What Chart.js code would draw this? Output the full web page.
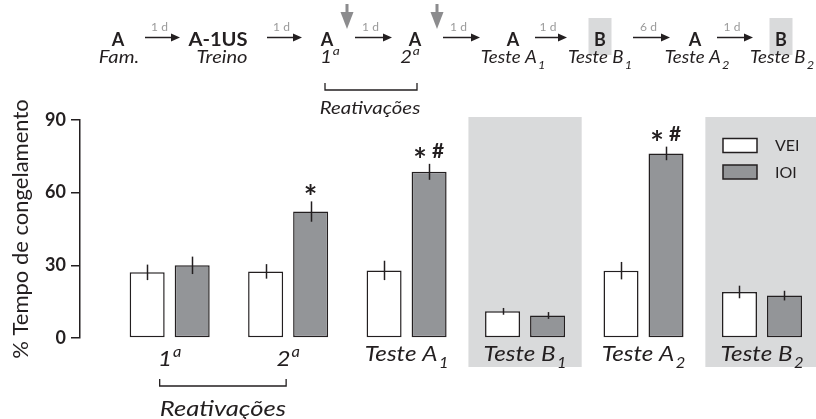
<!DOCTYPE html>
<html>
<head>
<meta charset="utf-8">
<script src="https://cdn.jsdelivr.net/npm/chart.js@4.4.1/dist/chart.umd.min.js"></script>
<style>
  html, body { margin: 0; padding: 0; background: #ffffff; }
  #wrap { width: 816px; height: 419px; position: relative; }
</style>
</head>
<body>
<div id="wrap"><canvas id="chart"></canvas></div>
<script>
// Freezing time (% of session) per session and treatment group, mean ± SEM
const categories = ['1ª', '2ª', 'Teste A₁', 'Teste B₁', 'Teste A₂', 'Teste B₂'];
const seriesNames = ['VEI', 'IOI'];
const veiMean = [27.1, 27.5, 27.9, 11.0, 27.8, 19.0];
const veiSem  = [3.2, 3.0, 4.0, 1.4, 3.6, 2.6];
const ioiMean = [30.0, 52.2, 68.6, 9.3, 76.2, 17.5];
const ioiSem  = [3.6, 4.2, 3.3, 1.4, 2.8, 2.0];
const significance = ['', '*', '* #', '', '* #', ''];
const contextBSessions = [3, 5];
const yTicks = [0, 30, 60, 90];

// Protocol timeline shown above the plot
const protocolContexts = ['A', 'A-1US', 'A', 'A', 'A', 'B', 'A', 'B'];
const protocolSessions = ['Fam.', 'Treino', '1ª', '2ª', 'Teste A₁', 'Teste B₁', 'Teste A₂', 'Teste B₂'];
const protocolIntervals = ['1 d', '1 d', '1 d', '1 d', '1 d', '6 d', '1 d'];
const reactivationLabel = 'Reativações';

const FONT = 'Lato, "Open Sans", sans-serif';
const INK = '#231f20';
const GREY_BAR = '#939598';
const PANEL = '#d9dadb';

// Splits a label into runs: plain text, superscript "a" (ª) and subscript digits.
function richRuns(label, size, style, weight) {
  const runs = [];
  let buf = '';
  const flush = () => { if (buf) { runs.push({ t: buf, size, dy: 0, gap: 0 }); buf = ''; } };
  for (const ch of label) {
    if (ch === 'ª') { flush(); runs.push({ t: 'a', size: size * 0.68, dy: -0.42 * size, gap: 0.04 * size }); }
    else if (ch === '₁' || ch === '₂') {
      flush();
      runs.push({ t: ch === '₁' ? '1' : '2', size: size * 0.68, dy: 0.32 * size, gap: 0.06 * size });
    }
    else buf += ch;
  }
  flush();
  runs.forEach(r => { r.font = `${style} ${weight} ${r.size}px ${FONT}`; });
  return runs;
}

// Draws a label centred on cx, optionally widened horizontally.
function drawRich(ctx, label, cx, baseline, size, opts = {}) {
  const style = opts.style || 'italic';
  const weight = opts.weight || 'normal';
  const stretch = opts.stretch || 1;
  const runs = richRuns(label, size, style, weight);
  let total = 0;
  runs.forEach(r => { ctx.font = r.font; r.w = ctx.measureText(r.t).width; total += r.w + r.gap; });
  ctx.save();
  ctx.translate(cx - (total * stretch) / 2, baseline);
  ctx.scale(stretch, 1);
  ctx.textAlign = 'left';
  ctx.textBaseline = 'alphabetic';
  ctx.fillStyle = opts.color || INK;
  let x = 0;
  runs.forEach(r => { x += r.gap; ctx.font = r.font; ctx.fillText(r.t, x, r.dy); x += r.w; });
  ctx.restore();
}

// Grey background behind the context-B test sessions
const panelPlugin = {
  id: 'contextPanels',
  beforeDatasetsDraw(chart) {
    const { ctx, chartArea, scales: { x } } = chart;
    ctx.save();
    ctx.fillStyle = PANEL;
    contextBSessions.forEach(i => {
      const l = x.getPixelForValue(i - 0.478);
      const r = x.getPixelForValue(i + 0.478);
      ctx.fillRect(l, chartArea.top - 3, r - l, chartArea.bottom + 29 - (chartArea.top - 3));
    });
    ctx.restore();
  }
};

// Error bars, significance marks, session labels and legend
const overlayPlugin = {
  id: 'overlay',
  afterDatasetsDraw(chart) {
    const { ctx, chartArea, scales: { x, y } } = chart;
    const sems = [veiSem, ioiSem];
    const means = [veiMean, ioiMean];
    ctx.save();
    ctx.strokeStyle = INK;
    ctx.lineWidth = 1.5;
    chart.data.datasets.forEach((ds, d) => {
      const meta = chart.getDatasetMeta(d);
      meta.data.forEach((bar, i) => {
        const top = y.getPixelForValue(means[d][i] + sems[d][i]);
        const bot = y.getPixelForValue(means[d][i] - sems[d][i]);
        ctx.beginPath();
        ctx.moveTo(Math.round(bar.x) + 0.5, top);
        ctx.lineTo(Math.round(bar.x) + 0.5, bot);
        ctx.stroke();
      });
    });

    // significance above the IOI bars
    const ioiMeta = chart.getDatasetMeta(1);
    ctx.fillStyle = INK;
    ctx.textBaseline = 'alphabetic';
    significance.forEach((s, i) => {
      if (!s) return;
      const top = y.getPixelForValue(ioiMean[i] + ioiSem[i]);
      const cx = ioiMeta.data[i].x;
      const marks = s.split(' ');
      const startX = cx - (marks.length - 1) * 9;
      marks.forEach((m, k) => {
        ctx.textAlign = 'center';
        if (m === '*') {
          ctx.font = `bold 32px ${FONT}`;
          ctx.fillText(m, startX + k * 18, top + 8);
        } else {
          ctx.font = `bold 21px ${FONT}`;
          ctx.fillText(m, startX + k * 18, top - 6);
        }
      });
    });

    // session labels under each group
    categories.forEach((c, i) => {
      const base = c.includes('ª') ? chartArea.bottom + 28 : chartArea.bottom + 23;
      drawRich(ctx, c, x.getPixelForValue(i), base, 22, { stretch: 1.1 });
    });

    // bracket grouping the two reactivation sessions
    const bl = x.getPixelForValue(0) - 10;
    const br = x.getPixelForValue(1) - 2;
    const by = chartArea.bottom + 48;
    ctx.strokeStyle = INK;
    ctx.lineWidth = 1.3;
    ctx.beginPath();
    ctx.moveTo(bl, by - 7); ctx.lineTo(bl, by); ctx.lineTo(br, by); ctx.lineTo(br, by - 7);
    ctx.stroke();
    drawRich(ctx, reactivationLabel, (bl + br) / 2, chartArea.bottom + 78, 21, { stretch: 1.22 });

    // legend
    const lx = chartArea.right - 93;
    chart.data.datasets.forEach((ds, d) => {
      const ly = chartArea.top + 18.5 + d * 26.5;
      ctx.fillStyle = ds.backgroundColor;
      ctx.fillRect(lx, ly, 34, 14);
      ctx.strokeStyle = INK;
      ctx.lineWidth = 1.5;
      ctx.strokeRect(lx, ly, 34, 14);
      ctx.fillStyle = INK;
      ctx.font = `16px ${FONT}`;
      ctx.textAlign = 'left';
      ctx.textBaseline = 'middle';
      ctx.fillText(ds.label, lx + 52, ly + 7.5);
    });
    ctx.restore();
  }
};

// Behavioural protocol timeline
const protocolPlugin = {
  id: 'protocol',
  afterDraw(chart) {
    const { ctx } = chart;
    const cx = [118, 218, 327, 415, 513, 600, 695, 781];
    const sx = [119, 222, 330, 410, 513, 600, 697, 782];
    const arrows = [[145, 180], [267, 302], [355, 392], [443, 480], [535, 567], [633, 670], [717, 753]];
    const ay = 37.5;
    ctx.save();

    // grey boxes marking context B
    ctx.fillStyle = PANEL;
    protocolContexts.forEach((c, i) => {
      if (c === 'B') ctx.fillRect(cx[i] - 11.5, 18, 23, 37);
    });

    protocolContexts.forEach((c, i) =>
      drawRich(ctx, c, cx[i], 46, 18, { style: 'normal', weight: 'bold', stretch: c.length > 1 ? 1.12 : 1 }));

    protocolSessions.forEach((s, i) =>
      drawRich(ctx, s, sx[i], 63, 18, { stretch: s.startsWith('Teste') ? 1.04 : 1.12 }));

    arrows.forEach(([a, b], i) => {
      ctx.strokeStyle = INK;
      ctx.lineWidth = 1.5;
      ctx.beginPath();
      ctx.moveTo(a, ay); ctx.lineTo(b - 6, ay);
      ctx.stroke();
      ctx.fillStyle = INK;
      ctx.beginPath();
      ctx.moveTo(b, ay); ctx.lineTo(b - 9, ay - 4); ctx.lineTo(b - 9, ay + 4); ctx.closePath();
      ctx.fill();
      ctx.fillStyle = '#9b9b9b';
      ctx.font = `12px ${FONT}`;
      ctx.textAlign = 'center';
      ctx.textBaseline = 'alphabetic';
      ctx.fillText(protocolIntervals[i], (a + b) / 2 - 3, 31);
    });

    // drug injection after each reactivation
    [347, 437].forEach(px => {
      ctx.fillStyle = '#8c8c8e';
      ctx.fillRect(px - 1.5, 4, 3, 10);
      ctx.beginPath();
      ctx.moveTo(px - 6.5, 12); ctx.lineTo(px + 6.5, 12); ctx.lineTo(px, 29); ctx.closePath();
      ctx.fill();
    });

    // reactivation bracket
    ctx.strokeStyle = INK;
    ctx.lineWidth = 1.3;
    ctx.beginPath();
    ctx.moveTo(325, 83); ctx.lineTo(325, 90); ctx.lineTo(417, 90); ctx.lineTo(417, 83);
    ctx.stroke();
    drawRich(ctx, reactivationLabel, 370, 114, 17, { stretch: 1.2 });
    ctx.restore();
  }
};

const toPoints = arr => arr.map((v, i) => ({ x: i, y: v }));

new Chart(document.getElementById('chart'), {
  type: 'bar',
  data: {
    datasets: [
      { label: seriesNames[0], data: toPoints(veiMean), backgroundColor: '#ffffff',
        borderColor: INK, borderWidth: 1.5, borderSkipped: false,
        categoryPercentage: 0.76, barPercentage: 0.778 },
      { label: seriesNames[1], data: toPoints(ioiMean), backgroundColor: GREY_BAR,
        borderColor: INK, borderWidth: 1.5, borderSkipped: false,
        categoryPercentage: 0.76, barPercentage: 0.778 }
    ]
  },
  options: {
    responsive: true,
    maintainAspectRatio: false,
    animation: false,
    layout: { padding: { top: 120, bottom: 81, left: 0, right: 0 } },
    plugins: { legend: { display: false }, tooltip: { enabled: false } },
    scales: {
      x: {
        type: 'linear', display: false, offset: false, bounds: 'data',
        grid: { offset: false },
        min: -0.757, max: 5.456,
        afterBuildTicks(scale) { scale.ticks = categories.map((c, i) => ({ value: i })); }
      },
      y: {
        min: 0, max: 90,
        afterBuildTicks(scale) { scale.ticks = yTicks.map(v => ({ value: v })); },
        ticks: { font: { family: FONT, size: 18, weight: 'bold' }, color: INK, padding: 5 },
        grid: { drawOnChartArea: false, drawTicks: true, tickLength: 9, color: INK, lineWidth: 1.5 },
        border: { display: true, color: INK, width: 1.5 },
        title: { display: true, text: '% Tempo de congelamento', color: INK,
                 font: { family: FONT, size: 22 }, padding: { top: 8, bottom: 0 } },
        afterFit(scale) { scale.width = 80; }
      }
    }
  },
  plugins: [panelPlugin, overlayPlugin, protocolPlugin]
});
</script>
</body>
</html>
